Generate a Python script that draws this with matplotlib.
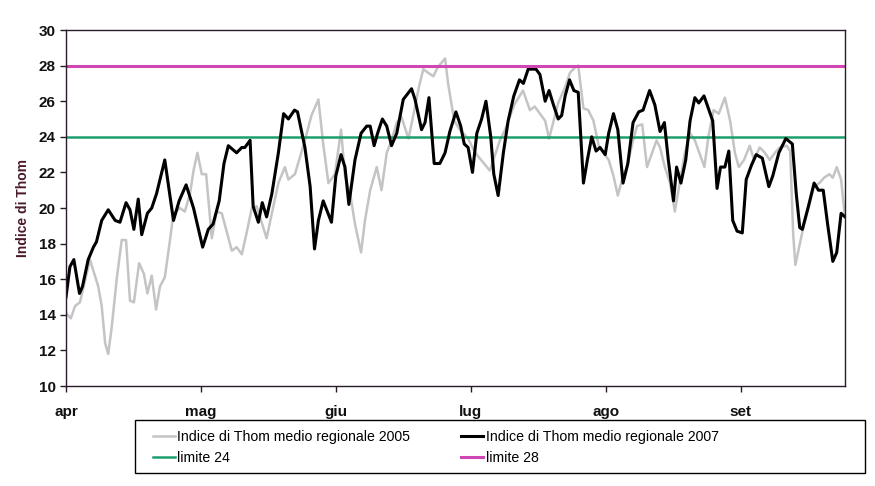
"""Indice di Thom medio regionale, apr-set 2005 vs 2007, with the 24 / 28 limits."""

import matplotlib
matplotlib.use("Agg")
import matplotlib.pyplot as plt
from matplotlib.patches import Rectangle

plt.rcParams["font.family"] = ["Liberation Sans", "DejaVu Sans"]

# traced vertices: day index from 1 April, index value
days_2007 = [0, 0.9, 1.8, 3.1, 3.8, 5.1, 6.3, 7, 8.2, 9.7, 11.3, 12.4, 13.8, 14.7, 15.6,
             16.6, 17.4, 18.7, 19.7, 20.8, 22.7, 24.7, 26, 27.6, 29.3, 31.4, 32.7, 33.8,
             35.2, 36.3, 37.3, 39.2, 40.4, 41.1, 42.3, 43, 44.2, 45.1, 46.1, 47.3, 48.8,
             50, 51.1, 52.5, 53.2, 54.9, 56.1, 57.1, 58, 59.1, 61, 62, 63.2, 64.1, 65,
             66.4, 67.8, 69.1, 69.9, 70.8, 71.6, 72.7, 73.7, 74.8, 76, 77.5, 79.4, 80.2,
             81.7, 82.5, 83.4, 84.6, 85.9, 87.1, 88.2, 89.6, 90.7, 91.5, 92.4, 93.4, 94.4,
             95.5, 96.5, 97.6, 98.3, 99.3, 100.5, 101.6, 102.9, 104.2, 105.1, 106.2, 108,
             108.9, 110.1, 111, 112, 113.1, 113.9, 114.7, 115.7, 116.7, 117.7, 118.9,
             119.8, 120.8, 121.8, 122.7, 123.9, 124.7, 125.8, 126.8, 128, 129.1, 130.3,
             131.6, 132.6, 134.1, 135.3, 136.5, 137.5, 138.4, 139.6, 140.3, 141.3, 142.4,
             143.4, 144.5, 145.4, 146.6, 147.6, 148.6, 149.6, 150.4, 151.4, 152.3, 153.2,
             154.2, 155.4, 156.3, 157.5, 158.6, 160, 161.5, 162.4, 163.8, 165.4, 166.9,
             167.8, 168.6, 169.2, 170.6, 171.9, 172.9, 174, 175, 176.2, 177.1, 178.1, 179]
thom_2007 = [15.0, 16.7, 17.1, 15.2, 15.6, 17.1, 17.8, 18.1, 19.3, 19.9, 19.3, 19.2, 20.3,
             19.9, 18.8, 20.5, 18.5, 19.7, 20.0, 20.8, 22.7, 19.3, 20.4, 21.3, 20.0, 17.8,
             18.8, 19.1, 20.4, 22.5, 23.5, 23.1, 23.4, 23.4, 23.8, 20.1, 19.2, 20.3, 19.5,
             20.8, 23.1, 25.3, 25.0, 25.5, 25.4, 23.4, 21.2, 17.7, 19.3, 20.4, 19.2, 21.8,
             23.0, 22.3, 20.2, 22.7, 24.2, 24.6, 24.6, 23.5, 24.2, 25.0, 24.6, 23.5, 24.2,
             26.1, 26.7, 26.1, 24.4, 24.8, 26.2, 22.5, 22.5, 23.1, 24.3, 25.4, 24.6, 23.6,
             23.4, 22.0, 24.2, 25.0, 26.0, 24.0, 21.9, 20.7, 23.1, 24.9, 26.3, 27.2, 27.0,
             27.8, 27.8, 27.5, 26.0, 26.6, 25.8, 25.0, 25.2, 26.3, 27.2, 26.6, 26.5, 21.4,
             22.7, 24.0, 23.2, 23.4, 23.0, 24.2, 25.3, 24.4, 21.4, 22.5, 24.8, 25.4, 25.5,
             26.6, 25.8, 24.3, 24.8, 22.7, 20.4, 22.3, 21.4, 22.7, 24.9, 26.2, 25.9, 26.3,
             25.6, 24.9, 21.1, 22.3, 22.3, 23.2, 19.3, 18.7, 18.6, 21.6, 22.4, 23.0, 22.8,
             21.2, 21.8, 23.1, 23.9, 23.6, 20.8, 18.9, 18.8, 20.1, 21.4, 21.0, 21.0, 19.1,
             17.0, 17.5, 19.7, 19.5]

days_2005 = [0, 1.1, 2.1, 3.2, 5.5, 7.4, 8.2, 9, 9.7, 10.5, 11.7, 12.8, 13.8, 14.7, 15.6,
             16.8, 17.9, 18.7, 19.7, 20.7, 21.6, 22.7, 23.9, 24.7, 26.2, 27.3, 28.5, 29.3,
             30.2, 31.2, 32.2, 33.5, 34.6, 35.8, 36.9, 38.1, 39.2, 40.4, 41.5, 42.7, 43.8,
             46.1, 47.3, 48.8, 50.3, 51.1, 52.6, 54.9, 56.4, 58, 59.1, 60.3, 61.8, 63.2,
             64.1, 65.3, 66.4, 67.8, 68.7, 69.9, 71.4, 72.5, 73.7, 74.8, 76, 77.1, 78.7,
             79.8, 81.1, 82.1, 83.2, 84.4, 85.4, 87.1, 87.8, 89.2, 90.5, 92.4, 93.6, 94.7,
             97.4, 99.7, 100.9, 103, 105, 106.6, 107.7, 108.9, 110.1, 111, 113.1, 114.7,
             115.8, 117, 117.7, 118.9, 120, 121.2, 122.4, 123.5, 124.7, 125.8, 126.8, 128,
             128.9, 130.1, 131.2, 132.4, 133.5, 135.7, 136.5, 137.6, 138.8, 139.9, 142.2,
             143.4, 144.5, 146.7, 147.6, 148.8, 150, 151.4, 152.6, 153.7, 154.6, 155.8,
             157.1, 158.1, 159.4, 160.6, 161.7, 162.9, 164, 165.6, 166.4, 167.1, 167.6,
             168.3, 169.5, 171.9, 173.1, 174.2, 175.4, 176.2, 177.1, 178.1, 178.9]
thom_2005 = [14.1, 13.8, 14.5, 14.7, 17.1, 15.6, 14.5, 12.4, 11.8, 13.3, 16.1, 18.2, 18.2,
             14.8, 14.7, 16.9, 16.3, 15.2, 16.2, 14.3, 15.6, 16.1, 18.2, 19.7, 20.0, 19.8,
             20.8, 22.1, 23.1, 21.9, 21.9, 18.3, 19.8, 19.7, 18.7, 17.6, 17.8, 17.4, 18.6,
             20.0, 20.1, 18.3, 19.7, 21.4, 22.3, 21.6, 21.9, 23.8, 25.2, 26.1, 23.6, 21.4,
             21.9, 24.4, 21.8, 20.8, 19.1, 17.5, 19.3, 21.0, 22.3, 21.0, 23.1, 23.8, 24.8,
             25.1, 23.9, 25.2, 26.8, 27.8, 27.6, 27.4, 27.9, 28.4, 27.0, 24.9, 24.4, 23.9,
             23.3, 22.9, 22.1, 23.8, 24.4, 25.8, 26.6, 25.5, 25.7, 25.3, 24.9, 23.9, 25.9,
             26.8, 27.6, 27.9, 28.0, 25.6, 25.5, 24.9, 23.5, 23.1, 22.7, 21.8, 20.7, 21.8,
             22.3, 23.6, 24.6, 24.7, 22.3, 23.8, 23.4, 22.3, 21.4, 19.8, 23.1, 24.2, 23.8,
             22.3, 24.0, 25.5, 25.3, 26.2, 24.9, 23.1, 22.3, 22.7, 23.5, 22.7, 23.4, 23.1,
             22.7, 23.1, 23.4, 23.5, 23.2, 18.5, 16.8, 17.6, 19.0, 21.2, 21.4, 21.7, 21.9,
             21.7, 22.3, 21.6, 19.7]

limit_low = 24
limit_high = 28
month_days = [0, 31, 62, 93, 124, 155]
month_labels = ["apr", "mag", "giu", "lug", "ago", "set"]

W, H = 875, 486
fig = plt.figure(figsize=(W / 100, H / 100), dpi=100)
ax = fig.add_axes([66 / W, 1 - 386 / H, 779 / W, 356 / H])

ax.plot(days_2005, thom_2005, color="#c4c4c4", lw=1.8,
        label="Indice di Thom medio regionale 2005")
ax.axhline(limit_low, color="#1e9e6e", lw=1.8, label="limite 24")
ax.plot(days_2007, thom_2007, color="black", lw=2.2,
        label="Indice di Thom medio regionale 2007")
ax.axhline(limit_high, color="#d046b4", lw=2.2, label="limite 28")

ax.set_xlim(0, 179)
ax.set_ylim(10, 30)
ax.set_yticks(range(10, 31, 2))
ax.set_xticks(month_days)
ax.set_xticklabels(month_labels)
ax.tick_params(axis="both", direction="out", length=4, width=1, colors="#2a1a2a",
               labelsize=11, labelcolor="#111111")
ax.tick_params(axis="x", pad=10)
for s in ax.spines.values():
    s.set_color("#2a1a2a")
    s.set_linewidth(1.0)
for t in ax.get_xticklabels() + ax.get_yticklabels():
    t.set_fontweight("bold")
ax.set_ylabel("Indice di Thom", fontsize=10, fontweight="bold", color="#4a1a2a", labelpad=6)

# legend frame drawn separately so it can run past the plot like the original
fig.add_artist(Rectangle((135 / W, 1 - 473 / H), 730 / W, 53 / H,
                         transform=fig.transFigure, fill=False,
                         edgecolor="black", lw=1.0))
h, l = ax.get_legend_handles_labels()
fig.legend(h, l, ncol=2, loc="upper left",
           bbox_to_anchor=(142 / W, 1 - 419 / H),
           fontsize=10.2, frameon=False,
           handlelength=1.5, handletextpad=0.2, borderpad=0.3,
           labelspacing=0.5, columnspacing=3.6)

fig.savefig("out.png", dpi=100)
